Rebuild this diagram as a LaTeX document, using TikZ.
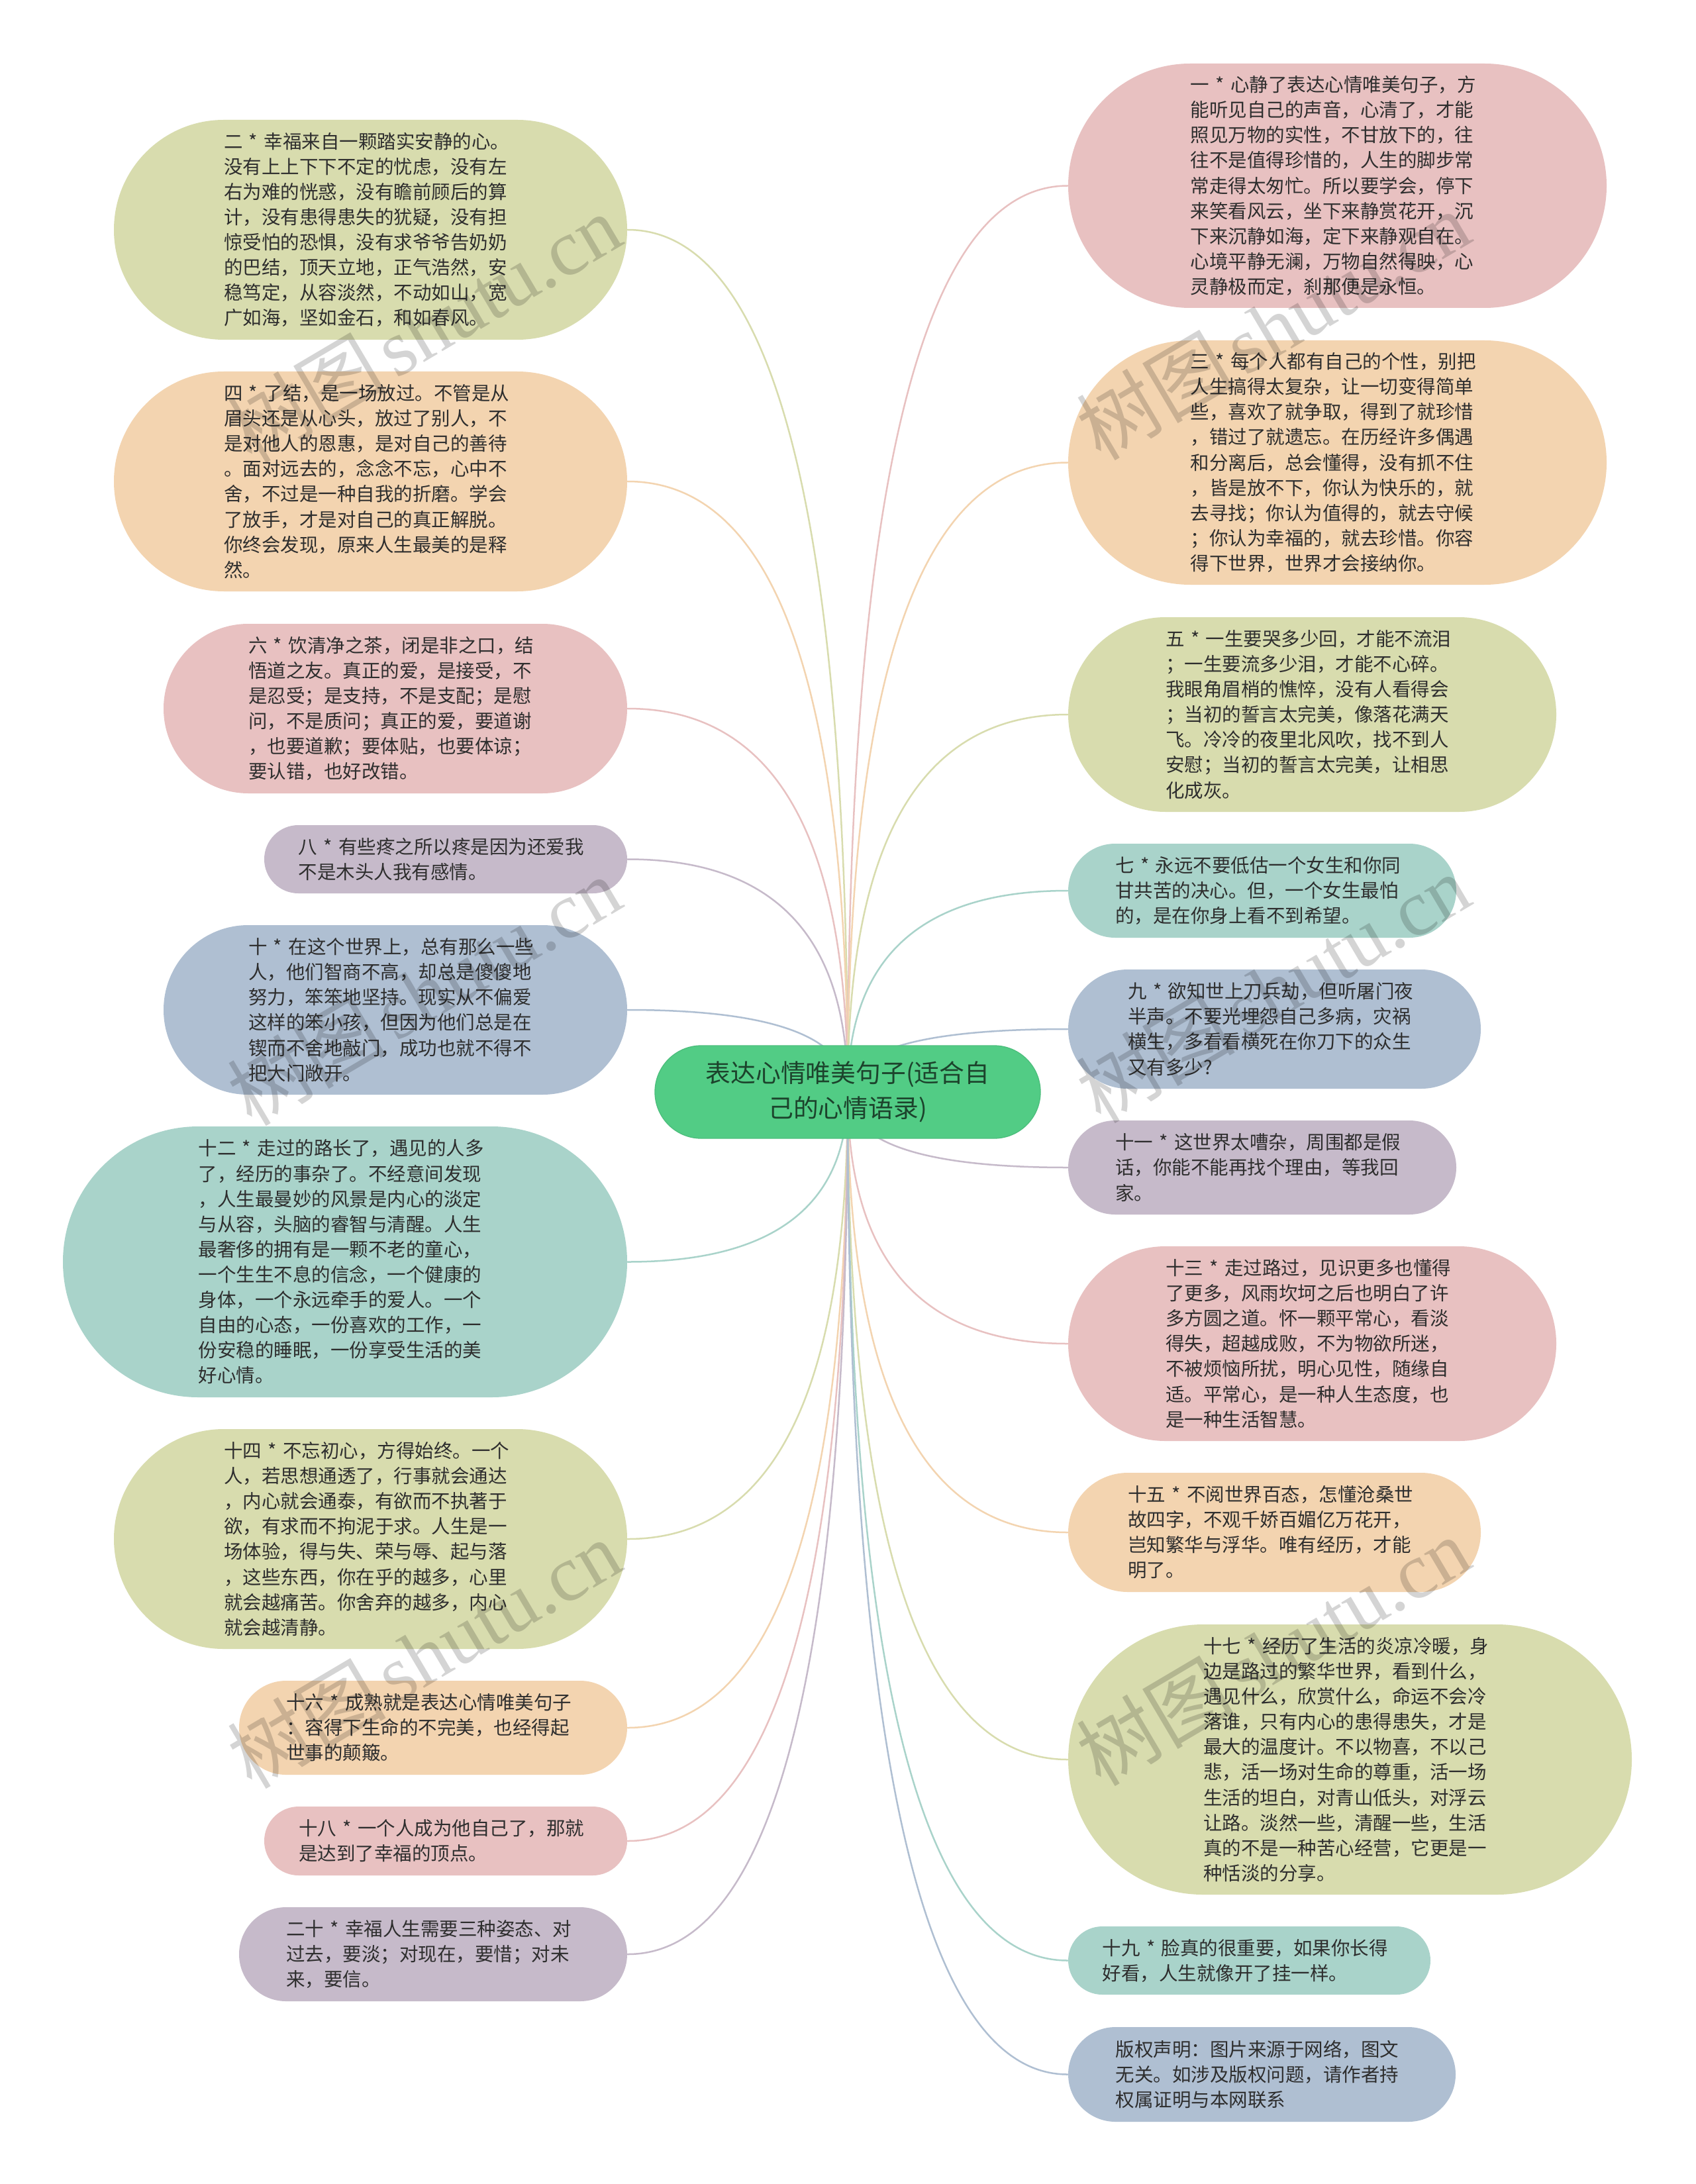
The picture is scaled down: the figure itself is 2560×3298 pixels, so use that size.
\documentclass[tikz,border=0pt]{standalone}
\usepackage{fontspec}
\setmainfont{Noto Sans CJK SC}
\newfontfamily\wmfont{Liberation Serif}
\usetikzlibrary{calc,backgrounds}
\definecolor{colgreen}{HTML}{D8DCAE}
\definecolor{colorange}{HTML}{F3D4B0}
\definecolor{colpink}{HTML}{E8C1C1}
\definecolor{colmauve}{HTML}{C6BACA}
\definecolor{colblue}{HTML}{AFBFD2}
\definecolor{colteal}{HTML}{A9D3CA}
\definecolor{colroot}{HTML}{52CC85}
\definecolor{colrootedge}{HTML}{4CBE7C}
\definecolor{coltext}{HTML}{2E2E2E}
\definecolor{colroottext}{HTML}{1C432C}
\tikzset{
  pill/.style={rectangle,inner sep=0pt,align=left,text=coltext,
    font=\fontsize{8.55}{11.43}\selectfont},
  rootpill/.style={rectangle,inner sep=0pt,align=center,text=colroottext,fill=colroot,draw=colrootedge,line width=.4pt,
    font=\fontsize{11.34}{15.9}\selectfont},
  link/.style={line width=.75pt,line cap=round},
  wmark/.style={rotate=30.6,anchor=base west,inner sep=0pt,text=black,text opacity=.17}
}
\newcommand{\pillnode}[7]{%
  \pgfmathsetmacro\pilw{(#4-#2)*.3}%
  \pgfmathsetmacro\pilh{(#5-#3)*.3}%
  \pgfmathsetmacro\pilt{\pilw-\pilh}%
  \pgfmathsetmacro\pilr{\pilh/2}%
  \node[pill,fill=#6,minimum width=\pilw pt,minimum height=\pilh pt,rounded corners=\pilr pt,text width=\pilt pt] (#1) at ({(#2+#4)/2},{(#3+#5)/2}) {#7};}
\newcommand{\connect}[3]{%
  \draw[link,#2] (root.center) .. controls ($(root.center)!.6667!(root.center |- #1.#3)$) and ($(#1.#3)!.6667!(root.center |- #1.#3)$) .. (#1.#3);}
\newcommand{\wmtext}{{\fontsize{36}{36}\selectfont 树图}\hspace{4pt}{\wmfont\fontsize{36}{36}\selectfont shutu.cn}}
\begin{document}
\begin{tikzpicture}[x=.3pt,y=-.3pt]
\useasboundingbox (0,0) rectangle (2560,3298);
\pillnode{n2}{172}{181}{947}{513}{colgreen}{二 * 幸福来自一颗踏实安静的心。\\没有上上下下不定的忧虑，没有左\\右为难的恍惑，没有瞻前顾后的算\\计，没有患得患失的犹疑，没有担\\惊受怕的恐惧，没有求爷爷告奶奶\\的巴结，顶天立地，正气浩然，安\\稳笃定，从容淡然，不动如山，宽\\广如海，坚如金石，和如春风。}
\pillnode{n4}{172}{561}{947}{893}{colorange}{四 * 了结，是一场放过。不管是从\\眉头还是从心头，放过了别人，不\\是对他人的恩惠，是对自己的善待\\。面对远去的，念念不忘，心中不\\舍，不过是一种自我的折磨。学会\\了放手，才是对自己的真正解脱。\\你终会发现，原来人生最美的是释\\然。}
\pillnode{n6}{247}{942}{947}{1198}{colpink}{六 * 饮清净之茶，闭是非之口，结\\悟道之友。真正的爱，是接受，不\\是忍受；是支持，不是支配；是慰\\问，不是质问；真正的爱，要道谢\\，也要道歉；要体贴，也要体谅；\\要认错，也好改错。}
\pillnode{n8}{399}{1246}{947}{1349}{colmauve}{八 * 有些疼之所以疼是因为还爱我\\不是木头人我有感情。}
\pillnode{n10}{247}{1397}{947}{1653}{colblue}{十 * 在这个世界上，总有那么一些\\人，他们智商不高，却总是傻傻地\\努力，笨笨地坚持。现实从不偏爱\\这样的笨小孩，但因为他们总是在\\锲而不舍地敲门，成功也就不得不\\把大门敞开。}
\pillnode{n12}{95}{1701}{947}{2110}{colteal}{十二 * 走过的路长了，遇见的人多\\了，经历的事杂了。不经意间发现\\，人生最曼妙的风景是内心的淡定\\与从容，头脑的睿智与清醒。人生\\最奢侈的拥有是一颗不老的童心，\\一个生生不息的信念，一个健康的\\身体，一个永远牵手的爱人。一个\\自由的心态，一份喜欢的工作，一\\份安稳的睡眠，一份享受生活的美\\好心情。}
\pillnode{n14}{172}{2158}{947}{2490}{colgreen}{十四 * 不忘初心，方得始终。一个\\人，若思想通透了，行事就会通达\\，内心就会通泰，有欲而不执著于\\欲，有求而不拘泥于求。人生是一\\场体验，得与失、荣与辱、起与落\\，这些东西，你在乎的越多，心里\\就会越痛苦。你舍弃的越多，内心\\就会越清静。}
\pillnode{n16}{361}{2538}{947}{2680}{colorange}{十六 * 成熟就是表达心情唯美句子\\：容得下生命的不完美，也经得起\\世事的颠簸。}
\pillnode{n18}{399}{2728}{947}{2832}{colpink}{十八 * 一个人成为他自己了，那就\\是达到了幸福的顶点。}
\pillnode{n20}{361}{2880}{947}{3022}{colmauve}{二十 * 幸福人生需要三种姿态、对\\过去，要淡；对现在，要惜；对未\\来，要信。}
\pillnode{n1}{1613}{96}{2426}{465}{colpink}{一 * 心静了表达心情唯美句子，方\\能听见自己的声音，心清了，才能\\照见万物的实性，不甘放下的，往\\往不是值得珍惜的，人生的脚步常\\常走得太匆忙。所以要学会，停下\\来笑看风云，坐下来静赏花开，沉\\下来沉静如海，定下来静观自在。\\心境平静无澜，万物自然得映，心\\灵静极而定，刹那便是永恒。}
\pillnode{n3}{1613}{514}{2426}{883}{colorange}{三 * 每个人都有自己的个性，别把\\人生搞得太复杂，让一切变得简单\\些，喜欢了就争取，得到了就珍惜\\，错过了就遗忘。在历经许多偶遇\\和分离后，总会懂得，没有抓不住\\，皆是放不下，你认为快乐的，就\\去寻找；你认为值得的，就去守候\\；你认为幸福的，就去珍惜。你容\\得下世界，世界才会接纳你。}
\pillnode{n5}{1613}{932}{2350}{1226}{colgreen}{五 * 一生要哭多少回，才能不流泪\\；一生要流多少泪，才能不心碎。\\我眼角眉梢的憔悴，没有人看得会\\；当初的誓言太完美，像落花满天\\飞。冷冷的夜里北风吹，找不到人\\安慰；当初的誓言太完美，让相思\\化成灰。}
\pillnode{n7}{1613}{1274}{2199}{1416}{colteal}{七 * 永远不要低估一个女生和你同\\甘共苦的决心。但，一个女生最怕\\的，是在你身上看不到希望。}
\pillnode{n9}{1613}{1464}{2236}{1644}{colblue}{九 * 欲知世上刀兵劫，但听屠门夜\\半声。不要光埋怨自己多病，灾祸\\横生，多看看横死在你刀下的众生\\又有多少?}
\pillnode{n11}{1613}{1692}{2199}{1834}{colmauve}{十一 * 这世界太嘈杂，周围都是假\\话，你能不能再找个理由，等我回\\家。}
\pillnode{n13}{1613}{1882}{2350}{2176}{colpink}{十三 * 走过路过，见识更多也懂得\\了更多，风雨坎坷之后也明白了许\\多方圆之道。怀一颗平常心，看淡\\得失，超越成败，不为物欲所迷，\\不被烦恼所扰，明心见性，随缘自\\适。平常心，是一种人生态度，也\\是一种生活智慧。}
\pillnode{n15}{1613}{2224}{2236}{2404}{colorange}{十五 * 不阅世界百态，怎懂沧桑世\\故四字，不观千娇百媚亿万花开，\\岂知繁华与浮华。唯有经历，才能\\明了。}
\pillnode{n17}{1613}{2453}{2464}{2861}{colgreen}{十七 * 经历了生活的炎凉冷暖，身\\边是路过的繁华世界，看到什么，\\遇见什么，欣赏什么，命运不会冷\\落谁，只有内心的患得患失，才是\\最大的温度计。不以物喜，不以己\\悲，活一场对生命的尊重，活一场\\生活的坦白，对青山低头，对浮云\\让路。淡然一些，清醒一些，生活\\真的不是一种苦心经营，它更是一\\种恬淡的分享。}
\pillnode{n19}{1613}{2909}{2160}{3012}{colteal}{十九 * 脸真的很重要，如果你长得\\好看，人生就像开了挂一样。}
\pillnode{n21}{1613}{3061}{2198}{3204}{colblue}{版权声明：图片来源于网络，图文\\无关。如涉及版权问题，请作者持\\权属证明与本网联系}
\node[rootpill,minimum width=174.6pt,minimum height=42pt,rounded corners=21pt,text width=140pt] (root) at (1280,1649) {表达心情唯美句子(适合自\\己的心情语录)};
\begin{pgfonlayer}{background}
\fill[white] (0,0) rectangle (2560,3298);
\connect{n2}{colgreen}{east}
\connect{n4}{colorange}{east}
\connect{n6}{colpink}{east}
\connect{n8}{colmauve}{east}
\connect{n10}{colblue}{east}
\connect{n12}{colteal}{east}
\connect{n14}{colgreen}{east}
\connect{n16}{colorange}{east}
\connect{n18}{colpink}{east}
\connect{n20}{colmauve}{east}
\connect{n1}{colpink}{west}
\connect{n3}{colorange}{west}
\connect{n5}{colgreen}{west}
\connect{n7}{colteal}{west}
\connect{n9}{colblue}{west}
\connect{n11}{colmauve}{west}
\connect{n13}{colpink}{west}
\connect{n15}{colorange}{west}
\connect{n17}{colgreen}{west}
\connect{n19}{colteal}{west}
\connect{n21}{colblue}{west}
\end{pgfonlayer}
\node[wmark] (w1) at (380,702) {\wmtext};
\node[wmark] (w2) at (1662,698) {\wmtext};
\node[wmark] (w3) at (380,1703) {\wmtext};
\node[wmark] (w4) at (1662,1699) {\wmtext};
\node[wmark] (w5) at (380,2704) {\wmtext};
\node[wmark] (w6) at (1662,2700) {\wmtext};
\end{tikzpicture}
\end{document}
